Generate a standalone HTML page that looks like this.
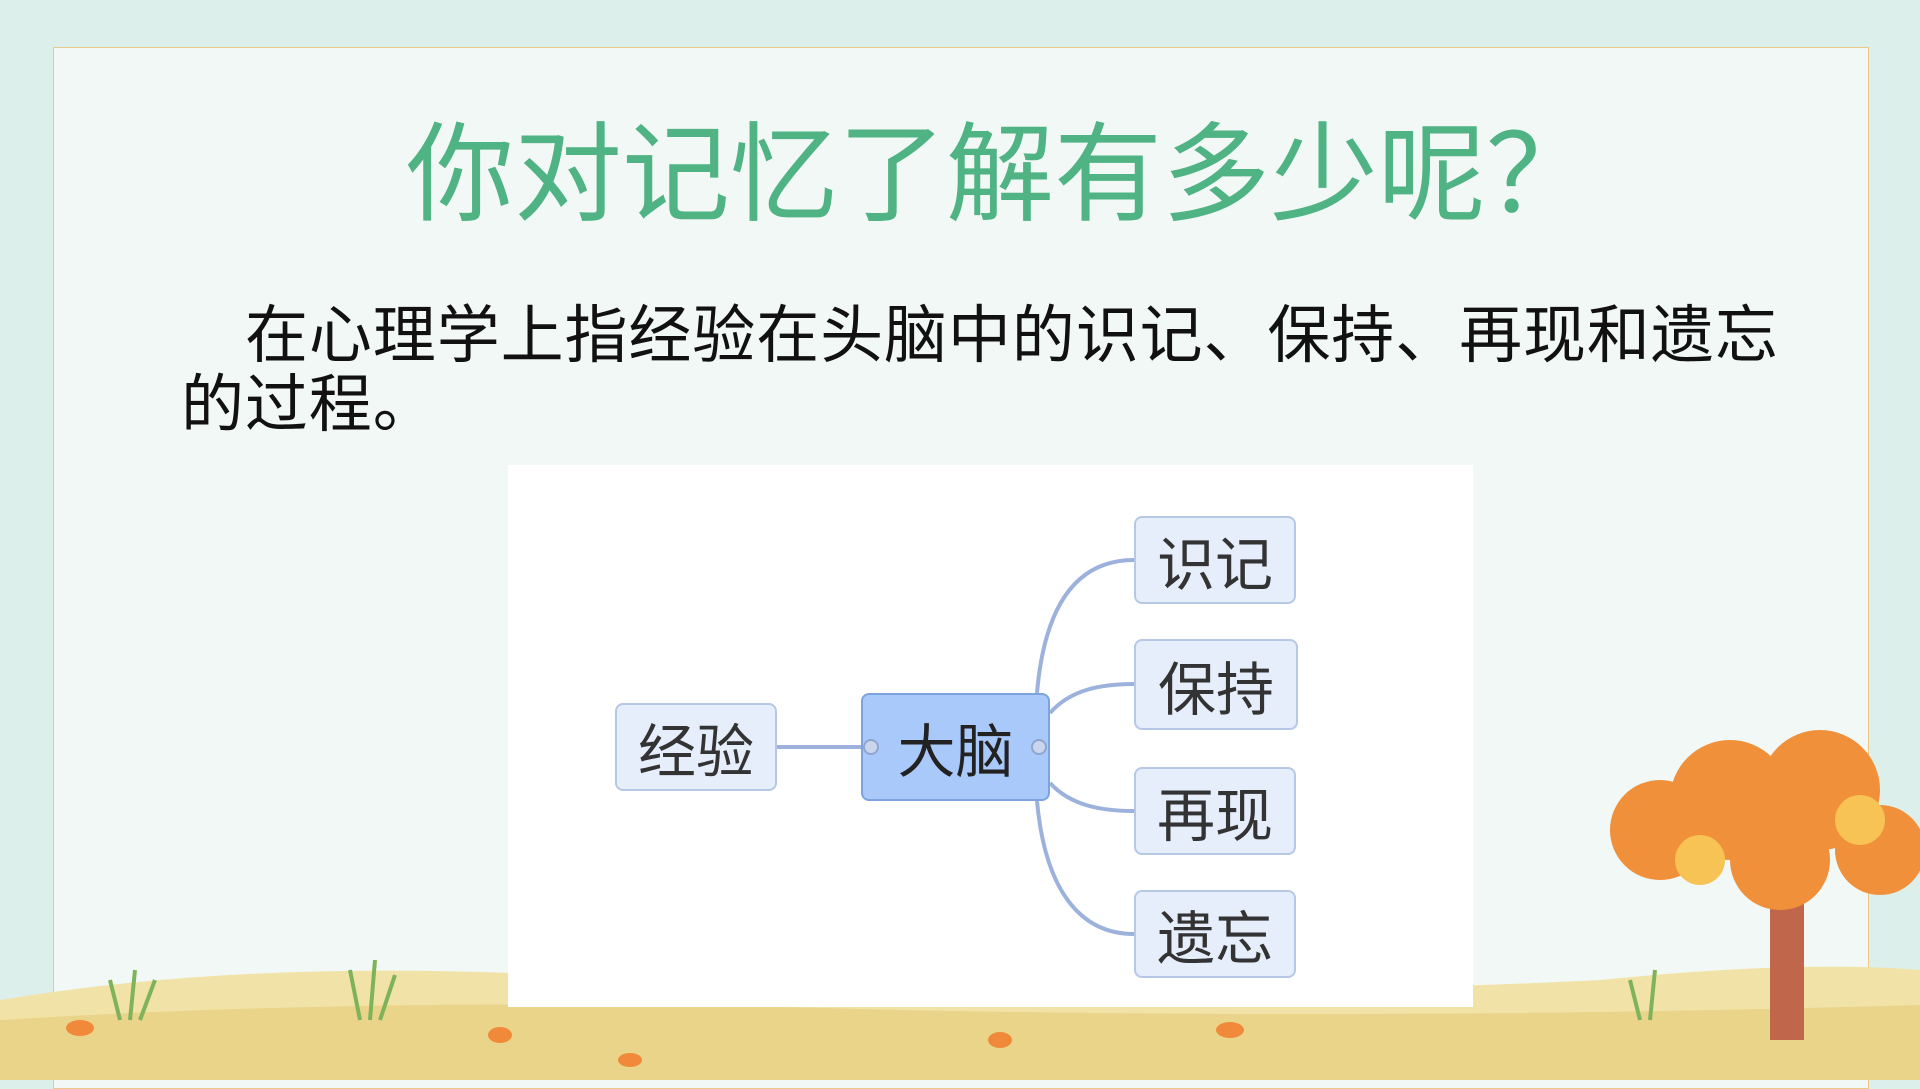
<!DOCTYPE html>
<html><head><meta charset="utf-8"><style>
body{margin:0;width:1920px;height:1080px;overflow:hidden;background:#dcefeb;font-family:"Liberation Sans","Noto Sans CJK SC",sans-serif;position:relative}
.frame{position:absolute;left:53px;top:47px;width:1814px;height:1040px;background:#f2f8f6;border:1.5px solid #e8c98a}
.title{position:absolute;left:40px;width:1920px;top:110px;text-align:center;font-size:108px;color:#4fb383;line-height:130px}
.para{position:absolute;left:181px;top:302px;width:1640px;font-size:63px;line-height:69px;color:#111;text-indent:64px;letter-spacing:0.9px}
.panel{position:absolute;left:508px;top:465px;width:965px;height:542px;background:#fff}
.node{position:absolute;background:#e6eefc;border:2px solid #b7c8e6;border-radius:8px;font-size:58px;color:#333;display:flex;align-items:center;justify-content:center;box-sizing:border-box}
.center{background:#a9c9fb;border-color:#7ea4e0;color:#222}
.dot{position:absolute;width:16px;height:16px;border-radius:50%;background:#c9d6ee;border:2px solid #8fa6d0;box-sizing:border-box}
</style></head><body>
<div class="frame"></div>
<svg style="position:absolute;left:0;top:0" width="1920" height="1080">
<path d="M0 1000 Q300 950 700 985 Q1200 1000 1600 980 Q1800 960 1920 970 L1920 1080 L0 1080Z" fill="#f1e3a8"/>
<path d="M0 1020 Q400 995 900 1010 Q1400 1020 1920 1005 L1920 1080 L0 1080Z" fill="#e9d48a"/>
<g stroke="#7fb35a" stroke-width="4" fill="none">
<path d="M120 1020 l-10 -40 M130 1020 l5 -50 M140 1020 l15 -40"/>
<path d="M360 1020 l-10 -50 M370 1020 l5 -60 M380 1020 l15 -45"/>
<path d="M1640 1020 l-10 -40 M1650 1020 l5 -50"/>
</g>
<g fill="#f08a3a"><ellipse cx="80" cy="1028" rx="14" ry="8"/><ellipse cx="500" cy="1035" rx="12" ry="8"/><ellipse cx="1000" cy="1040" rx="12" ry="8"/><ellipse cx="1230" cy="1030" rx="14" ry="8"/><ellipse cx="630" cy="1060" rx="12" ry="7"/></g>
<rect x="1770" y="830" width="34" height="210" fill="#c0664a"/>
<g fill="#f0903a"><circle cx="1660" cy="830" r="50"/><circle cx="1730" cy="800" r="60"/><circle cx="1820" cy="790" r="60"/><circle cx="1880" cy="850" r="45"/><circle cx="1780" cy="860" r="50"/></g>
<g fill="#f6c354"><circle cx="1700" cy="860" r="25"/><circle cx="1860" cy="820" r="25"/></g>
</svg>
<div class="title">你对记忆了解有多少呢？</div>
<div class="para">在心理学上指经验在头脑中的识记、保持、再现和遗忘的过程。</div>
<div class="panel"></div>
<svg style="position:absolute;left:0;top:0" width="1920" height="1080">
<g stroke="#9cb2dc" stroke-width="4" fill="none">
<path d="M777 747 L861 747"/>
<path d="M1037 693 C1045 600 1080 560 1134 560"/>
<path d="M1050 713 C1070 690 1100 684 1134 684"/>
<path d="M1050 783 C1070 805 1100 811 1134 811"/>
<path d="M1037 801 C1045 890 1080 934 1134 934"/>
</g>
</svg>
<div class="node" style="left:615px;top:703px;width:162px;height:88px">经验</div>
<div class="node center" style="left:861px;top:693px;width:189px;height:108px">大脑</div>
<div class="dot" style="left:863px;top:739px"></div>
<div class="dot" style="left:1031px;top:739px"></div>
<div class="node" style="left:1134px;top:516px;width:162px;height:88px">识记</div>
<div class="node" style="left:1134px;top:639px;width:164px;height:91px">保持</div>
<div class="node" style="left:1134px;top:767px;width:162px;height:88px">再现</div>
<div class="node" style="left:1134px;top:890px;width:162px;height:88px">遗忘</div>
</body></html>
